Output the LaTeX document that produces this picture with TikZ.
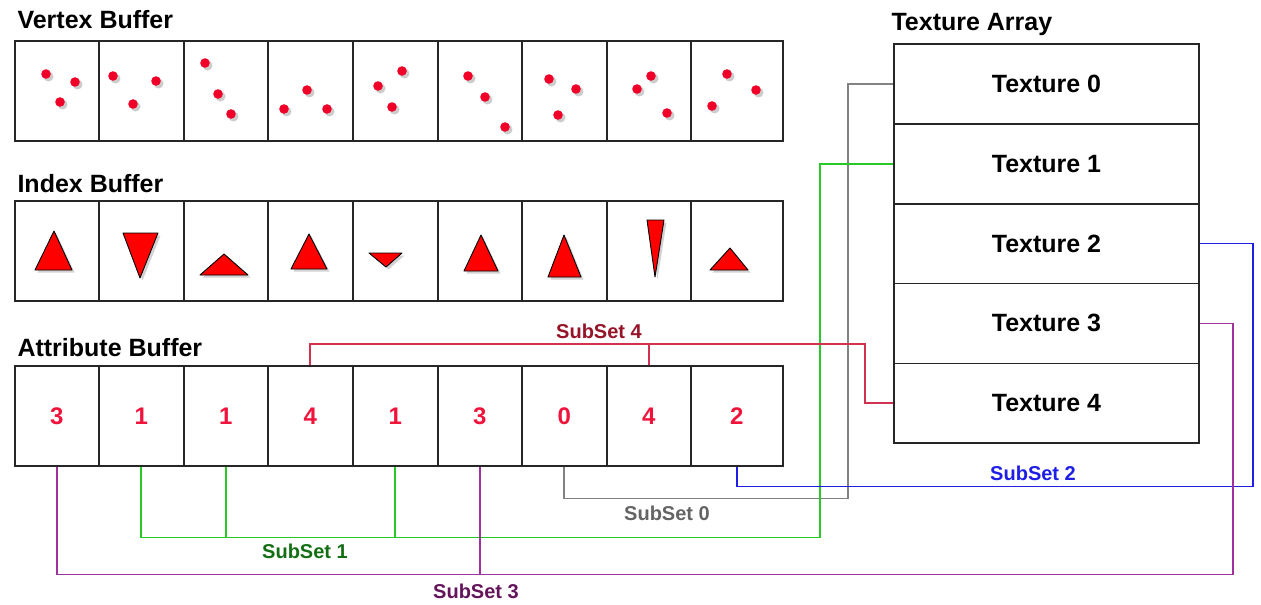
\documentclass[tikz,border=0pt]{standalone}
\usepackage{fontspec}
\setmainfont{Liberation Sans}
\definecolor{dotred}{RGB}{240,0,40}
\definecolor{numred}{RGB}{240,20,60}
\definecolor{greenline}{RGB}{40,200,40}
\definecolor{greenlab}{RGB}{20,110,20}
\definecolor{purpleline}{RGB}{160,50,160}
\definecolor{purplelab}{RGB}{100,20,90}
\definecolor{crimsonline}{RGB}{210,50,80}
\definecolor{crimsonlab}{RGB}{150,20,40}
\definecolor{grayline}{RGB}{130,130,130}
\definecolor{graylab}{RGB}{100,100,100}
\definecolor{blueline}{RGB}{30,30,230}
\tikzset{
  title/.style={anchor=base west, font=\fontsize{25}{25}\selectfont\bfseries},
  cell/.style={draw=black!85, line width=1.6pt, minimum height=100pt, inner sep=0pt, anchor=north west},
  texbox/.style={draw=black!85, line width=1.6pt, minimum width=305pt, minimum height=79.8pt, inner sep=0pt, font=\fontsize{25}{25}\selectfont\bfseries},
  sublab/.style={font=\fontsize{20}{20}\selectfont\bfseries},
  link/.style={line width=1.7pt}
}
\begin{document}
\begin{tikzpicture}[x=1pt,y=-1pt]
\useasboundingbox (0,0) rectangle (1261,605);
% titles
\node[title] (vtitle) at (14,28) {Vertex Buffer};
\node[title] (ititle) at (14,192) {Index Buffer};
\node[title] (atitle) at (14,356) {Attribute Buffer};
\node[title] (ttitle) at (888,30) {Texture Array};
% buffers
\foreach \i/\x/\w/\n in {1/14/84/3,2/98/85/1,3/183/84/1,4/267/85/4,5/352/85/1,6/437/84/3,7/521/85/0,8/606/84/4,9/690/92/2}{
  \node[cell, minimum width=\w pt] (v\i) at (\x,40) {};
  \node[cell, minimum width=\w pt] (i\i) at (\x,200) {};
  \node[cell, minimum width=\w pt, text=numred, font=\fontsize{24}{24}\selectfont\bfseries] (a\i) at (\x,365) {\n};
}
% vertices
\foreach \p in {(46,74),(75,82),(60,102),(113,76),(156,81),(133,104),(205,63),(218,94),(231,114),
  (284,109),(307,90),(327,109),(378,86),(402,71),(392,107),(468,76),(485,97),(505,127),
  (549,79),(576,89),(558,115),(651,76),(637,89),(667,113),(727,74),(756,90),(712,106)}{
  \fill[black!40, opacity=0.5] \p ++(2.5,2.5) circle (5pt);
  \fill[dotred] \p circle (4.8pt);
}
% triangles
\foreach \a/\b/\c in {{(54,231)}/{(35,270)}/{(72,270)}, {(123,233)}/{(158,233)}/{(140,278)},
  {(224,254)}/{(200,275)}/{(248,275)}, {(309,234)}/{(291,269)}/{(327,269)},
  {(369,253)}/{(402,253)}/{(386,267)}, {(481,235)}/{(464,271)}/{(498,271)},
  {(564,235)}/{(548,277)}/{(581,277)}, {(647,220)}/{(664,220)}/{(655,277)},
  {(730,248)}/{(710,270)}/{(748,270)}}{
  \fill[black!35, opacity=0.5, shift={(2.5,2.5)}] \a -- \b -- \c -- cycle;
  \filldraw[fill=red, draw=black, line width=0.9pt, line join=round] \a -- \b -- \c -- cycle;
}
% textures
\foreach \t in {0,...,4}
  \node[texbox] (tex\t) at (1046.5,84+79.8*\t) {Texture \t};
% subsets
\draw[link, grayline] (a7.south) -- ++(0,32) -| ([xshift=-45pt]tex0.west) -- (tex0.west);
\draw[link, greenline] (a2.south) -- ++(0,71) -| ([xshift=-73pt]tex1.west) -- (tex1.west);
\draw[link, greenline] (a3.south) -- ++(0,71);
\draw[link, greenline] (a5.south) -- ++(0,71);
\draw[link, blueline] (a9.south) -- ++(0,20) -| ([xshift=53pt]tex2.east) -- (tex2.east);
\draw[link, purpleline] (a1.south) -- ++(0,108) -| ([xshift=33pt]tex3.east) -- (tex3.east);
\draw[link, purpleline] (a6.south) -- ++(0,108);
\draw[link, crimsonline] (a4.north) -- ++(0,-21) -| ([xshift=-28pt]tex4.west) -- (tex4.west);
\draw[link, crimsonline] (a8.north) -- ++(0,-21);
\node[sublab, text=graylab] (s0) at (667,513) {SubSet 0};
\node[sublab, text=greenlab] (s1) at (305,551) {SubSet 1};
\node[sublab, text=blueline] (s2) at (1033,473) {SubSet 2};
\node[sublab, text=purplelab] (s3) at (476,591) {SubSet 3};
\node[sublab, text=crimsonlab] (s4) at (599,331) {SubSet 4};
\end{tikzpicture}
\end{document}
